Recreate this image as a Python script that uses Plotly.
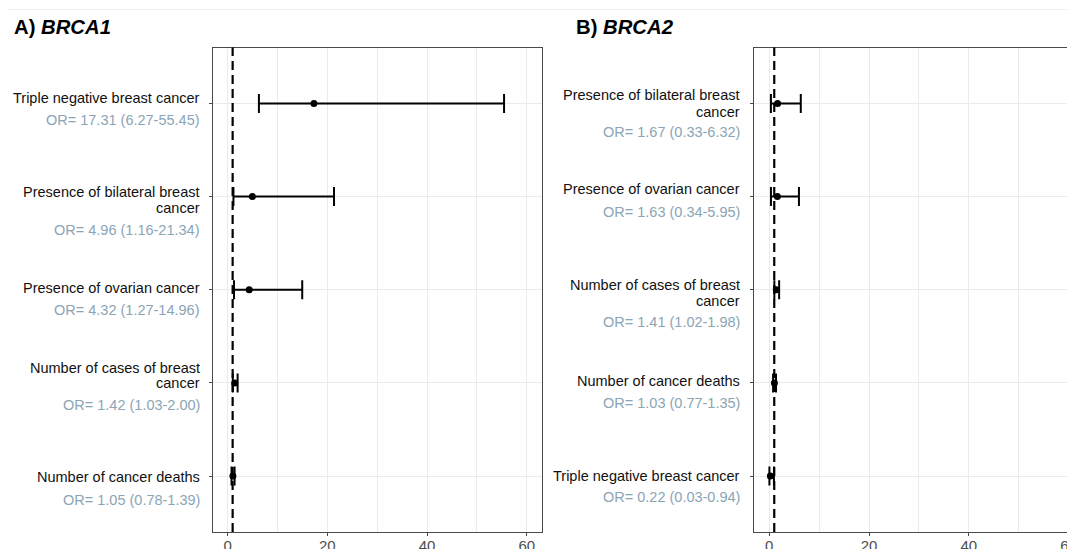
import plotly.graph_objects as go

# ---------------- data ----------------
brca1_labels = ["Triple negative breast cancer",
                "Presence of bilateral breast<br>cancer",
                "Presence of ovarian cancer",
                "Number of cases of breast<br>cancer",
                "Number of cancer deaths"]
brca1_or = [17.31, 4.96, 4.32, 1.42, 1.05]
brca1_lo = [6.27, 1.16, 1.27, 1.03, 0.78]
brca1_hi = [55.45, 21.34, 14.96, 2.00, 1.39]

brca2_labels = ["Presence of bilateral breast<br>cancer",
                "Presence of ovarian cancer",
                "Number of cases of breast<br>cancer",
                "Number of cancer deaths",
                "Triple negative breast cancer"]
brca2_or = [1.67, 1.63, 1.41, 1.03, 0.22]
brca2_lo = [0.33, 0.34, 1.02, 0.77, 0.03]
brca2_hi = [6.32, 5.95, 1.98, 1.35, 0.94]

ref_line = 1
x_ticks = [0, 20, 40, 60]
panel_titles = ["A) <i>BRCA1</i>", "B) <i>BRCA2</i>"]

# ---------------- layout (page pixels; the page body adds an 8px margin) ----------------
OFF = 8
W, H = 1075 - OFF, 549 - OFF


def px(x):
    return (x - OFF) / W


def py(y):
    return 1 - (y - OFF) / H


A_main_off = [[-5], [-5, 11], [-2], [-15, 0], [1]]
A_or_off = [17, 33, 20, 22, 24]
B_main_off = [[-8, 8.4], [-7.6], [-4.7, 11.6], [-1.6], [-0.6]]
B_or_off = [29, 15, 32.6, 20, 21]

FONT = "Liberation Sans, Arial, sans-serif"
OR_COLOR = "#8ba5b6"

fig = go.Figure()

panels = [
    (brca1_labels, brca1_or, brca1_lo, brca1_hi, "x", "y", A_main_off, A_or_off, 201.7),
    (brca2_labels, brca2_or, brca2_lo, brca2_hi, "x2", "y2", B_main_off, B_or_off, 741.7),
]

annotations = []
shapes = []
for labels, orv, lo, hi, xa, ya, moff, ooff, xr in panels:
    cats = [l.replace("<br>", " ") for l in labels]
    fig.add_trace(go.Scatter(
        x=orv, y=cats, xaxis=xa, yaxis=ya, mode="markers",
        marker=dict(color="black", size=7),
        error_x=dict(type="data", symmetric=False,
                     array=[h - o for h, o in zip(hi, orv)],
                     arrayminus=[o - l for o, l in zip(orv, lo)],
                     color="black", thickness=2, width=9.5),
        showlegend=False, hoverinfo="skip"))
    shapes.append(dict(type="line", xref=xa, yref=ya + " domain",
                       x0=ref_line, x1=ref_line, y0=0, y1=1,
                       line=dict(color="black", width=2.2, dash="9px,5px"),
                       layer="above"))
    for i, lab in enumerate(labels):
        lines = lab.split("<br>")
        for ln, off in zip(lines, moff[i]):
            annotations.append(dict(
                x=px(xr), xref="paper", y=cats[i], yref=ya, yshift=-off,
                text=ln, showarrow=False, xanchor="right", yanchor="middle",
                font=dict(family=FONT, size=14.5, color="#111111")))
        annotations.append(dict(
            x=px(xr), xref="paper", y=cats[i], yref=ya, yshift=-ooff[i],
            text=f"OR= {orv[i]:.2f} ({lo[i]:.2f}-{hi[i]:.2f})",
            showarrow=False, xanchor="right", yanchor="middle",
            font=dict(family=FONT, size=14.5, color=OR_COLOR)))

# titles
for title, tx in zip(panel_titles, [12, 574]):
    annotations.append(dict(x=px(tx), xref="paper", y=py(27), yref="paper",
                            text="<b>" + title + "</b>", showarrow=False,
                            xanchor="left", yanchor="middle",
                            font=dict(family=FONT, size=20.3, color="black")))

# faint top rule
shapes.append(dict(type="line", xref="paper", yref="paper", x0=0, x1=1,
                   y0=py(9.5), y1=py(9.5),
                   line=dict(color="#eceef2", width=1)))

ydom = [py(532), py(47.5)]
grid = "#ebebeb"
axis_line = "#4a4a4a"


def xaxis(domain, rng, mirror):
    return dict(domain=domain, range=rng, tickvals=x_ticks, ticktext=[str(t) for t in x_ticks],
                showgrid=True, gridcolor=grid, gridwidth=1.2,
                minor=dict(dtick=10, tick0=0, showgrid=True, gridcolor=grid, gridwidth=1.2),
                showline=True, linecolor=axis_line, linewidth=1.4, mirror=mirror,
                ticks="outside", ticklen=3, tickcolor=axis_line, tickwidth=1,
                ticklabeloverflow="allow", ticklabelstandoff=-3, automargin=False,
                tickfont=dict(family=FONT, size=15, color="#4d4d4d"),
                zeroline=False, fixedrange=True)


def yaxis(cats, anchor, mirror):
    return dict(domain=ydom, type="category", categoryorder="array", categoryarray=cats,
                range=[len(cats) - 0.4, -0.6], anchor=anchor,
                showgrid=True, gridcolor=grid, gridwidth=1.2,
                showline=True, linecolor=axis_line, linewidth=1.4, mirror=mirror,
                ticks="outside", ticklen=3, tickcolor=axis_line, tickwidth=1,
                showticklabels=False, zeroline=False, fixedrange=True, automargin=False)


fig.update_layout(
    width=W, height=H, margin=dict(l=0, r=0, t=0, b=0, autoexpand=False),
    paper_bgcolor="white", plot_bgcolor="white",
    xaxis=xaxis([px(212.7), px(541.7)], [-3, 63], True),
    xaxis2=dict(**xaxis([px(754.3), 1.0], [-3, 61.3], True), anchor="y2"),
    yaxis=yaxis([l.replace("<br>", " ") for l in brca1_labels], "x", True),
    yaxis2=yaxis([l.replace("<br>", " ") for l in brca2_labels], "x2", False),
    annotations=annotations, shapes=shapes,
)

fig.write_html("out.html")
